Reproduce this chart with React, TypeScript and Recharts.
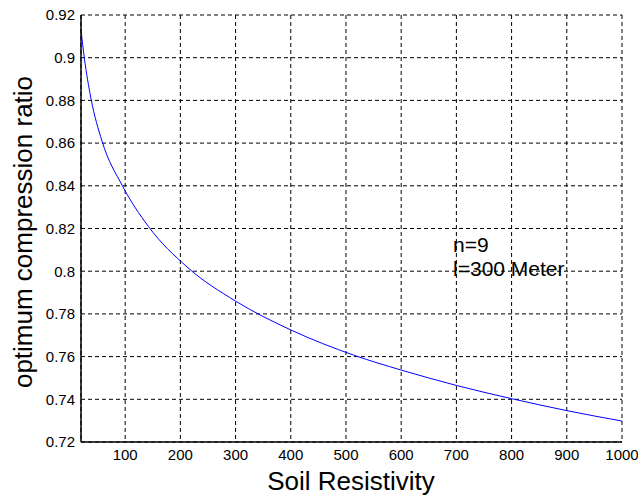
import * as React from "react"
import {
  CartesianGrid,
  Line,
  LineChart,
  ReferenceDot,
  XAxis,
  YAxis,
} from "recharts"

// soil resistivity vs optimum compression ratio
const resistivity = [20, 26, 38, 58, 95, 142, 212, 300, 400, 516, 600, 700, 800, 900, 1000]
const ratio = [0.913, 0.9, 0.881, 0.861, 0.84, 0.821, 0.802, 0.786, 0.7725, 0.7605, 0.7537, 0.7465, 0.7403, 0.7347, 0.7298]

const xTicks = [100, 200, 300, 400, 500, 600, 700, 800, 900, 1000]
const yTicks = [0.72, 0.74, 0.76, 0.78, 0.8, 0.82, 0.84, 0.86, 0.88, 0.9, 0.92]

const notes = ["n=9", "l=300 Meter"]
const noteY = [0.809, 0.7978]

const data = resistivity.map((x, i) => ({ x, y: ratio[i] }))

const font = "'Liberation Sans', Arial, sans-serif"
const tickStyle = { fontSize: 15, fill: "#000", fontFamily: font }

const fmtY = (v: number) => String(Number(v.toFixed(2)))

export default function App() {
  return (
    <div style={{ position: "absolute", left: 0, top: 0, background: "#fff" }}>
      <LineChart
        width={638}
        height={497}
        data={data}
        margin={{ top: 15, right: 16, bottom: 0, left: 0 }}
      >
        <CartesianGrid stroke="#000" strokeDasharray="4 3" strokeWidth={1} />
        <XAxis
          dataKey="x"
          type="number"
          domain={[20, 1000]}
          ticks={xTicks}
          allowDataOverflow
          tickLine={false}
          axisLine={{ stroke: "#000", strokeWidth: 1.5 }}
          tick={tickStyle}
          tickMargin={1}
          height={55}
          label={{
            content: () => (
              <text x={351} y={490} textAnchor="middle" fontSize={26} fontFamily={font} fill="#000">
                Soil Resistivity
              </text>
            ),
          }}
        />
        <XAxis
          xAxisId="top"
          orientation="top"
          dataKey="x"
          type="number"
          domain={[20, 1000]}
          tick={false}
          tickLine={false}
          height={0}
          axisLine={{ stroke: "#000", strokeWidth: 1.5 }}
        />
        <YAxis
          type="number"
          domain={[0.72, 0.92]}
          ticks={yTicks}
          tickFormatter={fmtY}
          tickLine={false}
          axisLine={{ stroke: "#000", strokeWidth: 1.5 }}
          tick={tickStyle}
          tickMargin={0}
          width={81}
          label={{
            content: () => (
              <text
                x={32}
                y={232}
                transform="rotate(-90, 32, 232)"
                textAnchor="middle"
                fontSize={26}
                fontFamily={font}
                fill="#000"
              >
                optimum compression ratio
              </text>
            ),
          }}
        />
        <YAxis
          yAxisId="right"
          orientation="right"
          type="number"
          domain={[0.72, 0.92]}
          tick={false}
          tickLine={false}
          width={0}
          axisLine={{ stroke: "#000", strokeWidth: 1.5 }}
        />
        <Line
          type="monotone"
          dataKey="y"
          stroke="#0000ff"
          strokeWidth={1}
          dot={false}
          isAnimationActive={false}
        />
        {notes.map((t, i) => (
          <ReferenceDot
            key={t}
            x={694}
            y={noteY[i]}
            r={0}
            stroke="none"
            label={{
              content: (p: any) => (
                <text x={p.viewBox.x} y={p.viewBox.y} fontSize={21} fontFamily={font} fill="#000">
                  {t}
                </text>
              ),
            }}
          />
        ))}
      </LineChart>
    </div>
  )
}
